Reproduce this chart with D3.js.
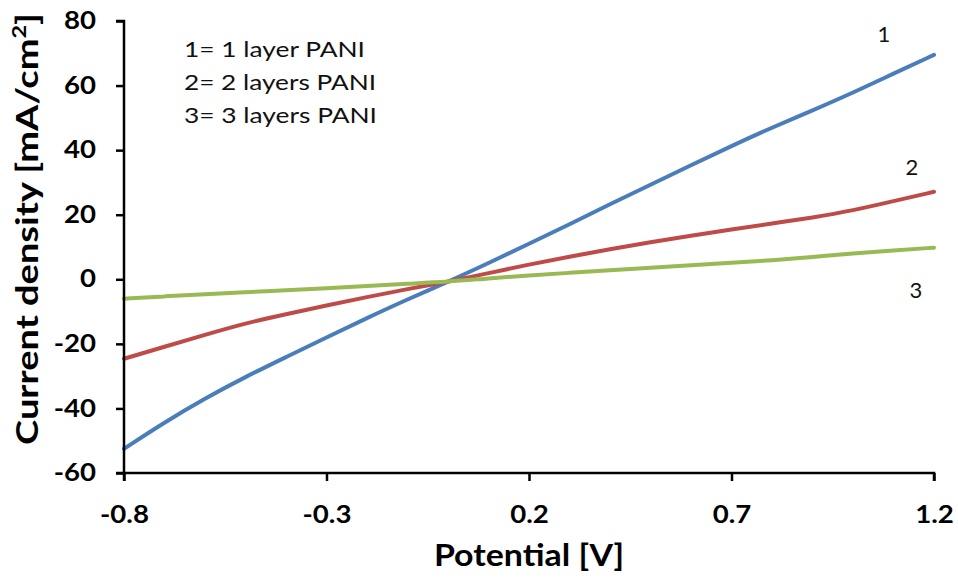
<!DOCTYPE html>
<html>
<head>
<meta charset="utf-8">
<script src="https://cdn.jsdelivr.net/npm/d3@7"></script>
<style>
  html, body { margin: 0; padding: 0; background: #fff; }
  svg { display: block; font-family: Lato, "Open Sans", sans-serif; }
</style>
</head>
<body>
<svg id="chart" width="958" height="583"></svg>
<script>
// Potential sweep (V)
const potential = [-0.8, -0.7, -0.6, -0.5, -0.4, -0.3, -0.2, -0.1, 0.0, 0.1, 0.2,
                   0.3, 0.4, 0.5, 0.6, 0.7, 0.8, 0.9, 1.0, 1.1, 1.2];

// Current density (mA/cm²) for each PANI coating
const layer1 = [-52.5, -44.3, -36.9, -30.2, -24.1, -18.0, -12.0, -6.2, -0.8, 5.0, 11.0,
                17.0, 23.3, 29.3, 35.3, 41.3, 47.0, 52.3, 57.8, 63.7, 69.5];
const layer2 = [-24.6, -20.9, -17.2, -13.6, -10.8, -8.1, -5.5, -3.0, -0.8, 1.9, 4.6,
                7.0, 9.3, 11.5, 13.5, 15.4, 17.3, 19.1, 21.3, 24.2, 27.1];
const layer3 = [-6.0, -5.3, -4.6, -4.0, -3.4, -2.8, -2.1, -1.4, -0.8, 0.3, 1.2,
                2.0, 2.8, 3.6, 4.4, 5.1, 5.9, 6.9, 8.0, 8.9, 9.8];

const seriesNames = ["1", "2", "3"];
const seriesColors = ["#4a7ebb", "#be4b48", "#98b954"];
const legendLines = ["1= 1 layer PANI", "2= 2 layers PANI", "3= 3 layers PANI"];

const xTicks = [-0.8, -0.3, 0.2, 0.7, 1.2];
const yTicks = [-60, -40, -20, 0, 20, 40, 60, 80];

const svg = d3.select("#chart");
const margin = { left: 124, right: 24, top: 21, bottom: 110 };
const W = 958, H = 583;

const x = d3.scaleLinear().domain([-0.8, 1.2]).range([margin.left, W - margin.right]);
const y = d3.scaleLinear().domain([-60, 80]).range([H - margin.bottom, margin.top]);

// plain hyphen for negative numbers
const fmtX = d => d.toFixed(1);
const fmtY = d => String(d);

// widen a text element horizontally by a factor (Calibri-like proportions)
function widen(sel, factor) {
  sel.each(function () {
    const len = this.getComputedTextLength();
    d3.select(this)
      .attr("textLength", len * factor)
      .attr("lengthAdjust", "spacingAndGlyphs");
  });
}

// Curves
const series = [layer1, layer2, layer3];
const line = d3.line()
  .x((d, i) => x(potential[i]))
  .y(d => y(d))
  .curve(d3.curveBasis);

svg.append("g").selectAll("path")
  .data(series)
  .join("path")
  .attr("d", d => line(d))
  .attr("fill", "none")
  .attr("stroke", (d, i) => seriesColors[i])
  .attr("stroke-width", 4)
  .attr("stroke-linecap", "round")
  .attr("stroke-linejoin", "round");

// Axes
const xAxis = svg.append("g")
  .attr("transform", `translate(0,${y(-60)})`)
  .call(d3.axisBottom(x).tickValues(xTicks).tickSize(8).tickPadding(25).tickFormat(fmtX));
const yAxis = svg.append("g")
  .attr("transform", `translate(${x(-0.8)},0)`)
  .call(d3.axisLeft(y).tickValues(yTicks).tickSize(8).tickPadding(20).tickFormat(fmtY));

[xAxis, yAxis].forEach(g => {
  g.select(".domain").attr("stroke", "#000").attr("stroke-width", 2.5);
  g.selectAll(".tick line").attr("stroke", "#000").attr("stroke-width", 2.5);
  g.selectAll(".tick text")
    .attr("fill", "#000")
    .attr("font-size", 24)
    .attr("font-weight", "bold")
    .attr("font-family", "Lato, 'Open Sans', sans-serif")
    .call(widen, 1.15);
});
// keep the axis lines flush with the end ticks
xAxis.select(".domain").attr("d", `M${x(-0.8)},8V0H${x(1.2)}V8`);
yAxis.select(".domain").attr("d", `M-8,${y(80)}H0V${y(-60)}H-8`);

// Axis titles
svg.append("text")
  .attr("x", (x(-0.8) + x(1.2)) / 2)
  .attr("y", 566)
  .attr("text-anchor", "middle")
  .attr("font-size", 30)
  .attr("font-weight", "bold")
  .attr("fill", "#000")
  .text("Potential [V]")
  .call(widen, 1.13);

const yTitle = svg.append("text")
  .attr("transform", "translate(38,229) rotate(-90)")
  .attr("text-anchor", "middle")
  .attr("font-size", 31)
  .attr("font-weight", "bold")
  .attr("fill", "#000");
yTitle.append("tspan").text("Current density [mA/cm");
yTitle.append("tspan").attr("font-size", 19).attr("dy", -12).text("2");
yTitle.append("tspan").attr("dy", 12).text("]");
yTitle.attr("textLength", 432).attr("lengthAdjust", "spacingAndGlyphs");

// Legend text
const legendWidths = [181, 192, 193];
svg.append("g").selectAll("text")
  .data(legendLines)
  .join("text")
  .attr("x", 184)
  .attr("y", (d, i) => 57 + i * 33)
  .attr("font-size", 21)
  .attr("fill", "#111")
  .attr("textLength", (d, i) => legendWidths[i])
  .attr("lengthAdjust", "spacingAndGlyphs")
  .text(d => d);

// Curve labels near the right ends
const labelPos = [[884, 42], [912, 175], [916, 298]];
svg.append("g").selectAll("text")
  .data(seriesNames)
  .join("text")
  .attr("x", (d, i) => labelPos[i][0])
  .attr("y", (d, i) => labelPos[i][1])
  .attr("text-anchor", "middle")
  .attr("font-size", 22)
  .attr("fill", "#111")
  .text(d => d);
</script>
</body>
</html>
